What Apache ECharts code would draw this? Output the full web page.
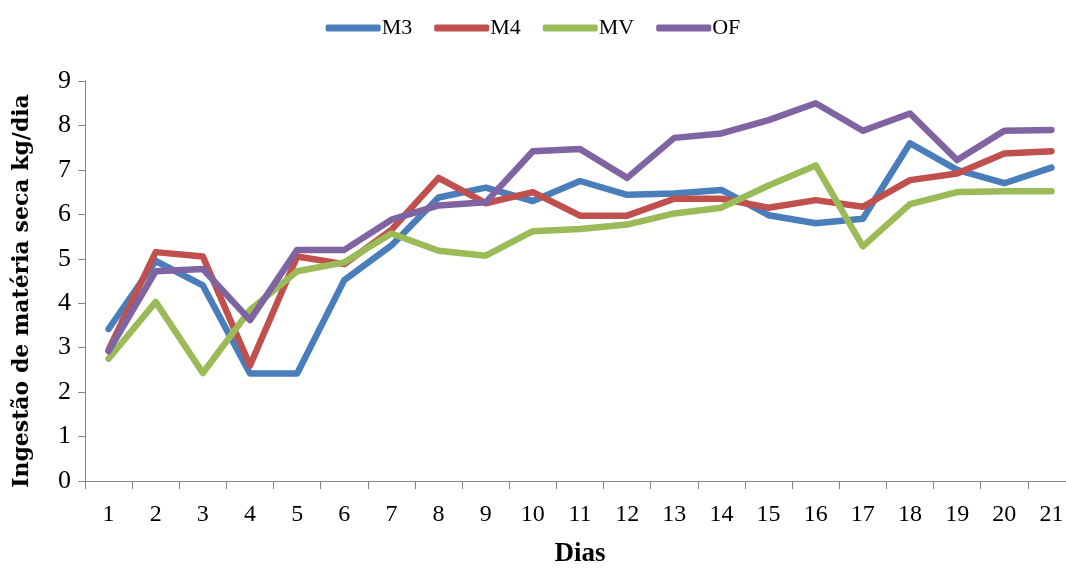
<!DOCTYPE html>
<html>
<head>
<meta charset="utf-8">
<script src="https://cdn.jsdelivr.net/npm/echarts@6/dist/echarts.min.js"></script>
<style>
  html, body { margin: 0; padding: 0; background: #ffffff; }
  #chart { width: 1066px; height: 568px; }
</style>
</head>
<body>
<div id="chart"></div>
<script>
// Daily dry matter intake (kg/day) per treatment over 21 days
const dias = ['1','2','3','4','5','6','7','8','9','10','11','12','13','14','15','16','17','18','19','20','21'];
const m3 = [3.42, 4.95, 4.40, 2.42, 2.42, 4.52, 5.30, 6.38, 6.60, 6.30, 6.75, 6.44, 6.47, 6.55, 5.98, 5.80, 5.90, 7.60, 7.00, 6.70, 7.05];
const m4 = [2.95, 5.15, 5.05, 2.60, 5.05, 4.88, 5.65, 6.82, 6.25, 6.50, 5.97, 5.97, 6.35, 6.35, 6.15, 6.32, 6.17, 6.77, 6.92, 7.37, 7.42];
const mv = [2.75, 4.03, 2.43, 3.85, 4.72, 4.92, 5.57, 5.18, 5.07, 5.62, 5.67, 5.77, 6.02, 6.15, 6.65, 7.10, 5.28, 6.23, 6.50, 6.52, 6.52];
const of = [2.92, 4.72, 4.77, 3.62, 5.20, 5.20, 5.88, 6.20, 6.27, 7.42, 7.47, 6.82, 7.72, 7.82, 8.12, 8.50, 7.88, 8.27, 7.22, 7.88, 7.90];
const seriesNames = ['M3', 'M4', 'MV', 'OF'];
const seriesColors = ['#4a7ebb', '#c0504d', '#9bbb59', '#8064a2'];

const serif = '"Liberation Serif", "Times New Roman", serif';
const axisGray = '#868686';

const chart = echarts.init(document.getElementById('chart'), null, { renderer: 'canvas' });

const lineSeries = [m3, m4, mv, of].map((values, i) => ({
  name: seriesNames[i],
  type: 'line',
  data: values,
  symbol: 'none',
  smooth: false,
  lineStyle: { width: 6.5, color: seriesColors[i], cap: 'round', join: 'round' },
  itemStyle: { color: seriesColors[i] },
  emphasis: { disabled: true }
}));

chart.setOption({
  animation: false,
  backgroundColor: '#ffffff',
  legend: {
    top: 12,
    left: 'center',
    icon: 'roundRect',
    itemWidth: 55,
    itemHeight: 7,
    itemGap: 22,
    textStyle: { fontFamily: serif, fontSize: 22, color: '#000', padding: [0, 0, 0, -4] },
    data: seriesNames
  },
  grid: { left: 85, top: 81, width: 990, height: 400, containLabel: false, outerBoundsMode: 'none' },
  xAxis: {
    type: 'category',
    data: dias,
    boundaryGap: true,
    name: 'Dias',
    nameLocation: 'middle',
    nameGap: 60,
    nameTextStyle: { fontFamily: serif, fontSize: 27, fontWeight: 'bold', color: '#000' },
    axisLine: { lineStyle: { color: axisGray, width: 1 } },
    axisTick: { show: true, alignWithLabel: false, length: 8, lineStyle: { color: axisGray } },
    axisLabel: { fontFamily: serif, fontSize: 24, color: '#000', margin: 22 },
    splitLine: { show: false }
  },
  yAxis: {
    type: 'value',
    min: 0,
    max: 9,
    interval: 1,
    name: 'Ingestão de matéria seca kg/dia',
    nameLocation: 'middle',
    nameGap: 52,
    nameTextStyle: { fontFamily: '"DejaVu Serif", serif', fontSize: 22, fontWeight: 'bold', color: '#000', padding: [0, 20, 0, 0] },
    axisLine: { show: true, lineStyle: { color: axisGray, width: 1 } },
    axisTick: { show: true, length: 7, lineStyle: { color: axisGray } },
    axisLabel: { fontFamily: serif, fontSize: 26, color: '#000', margin: 14 },
    splitLine: { show: false }
  },
  series: lineSeries
});
</script>
</body>
</html>
